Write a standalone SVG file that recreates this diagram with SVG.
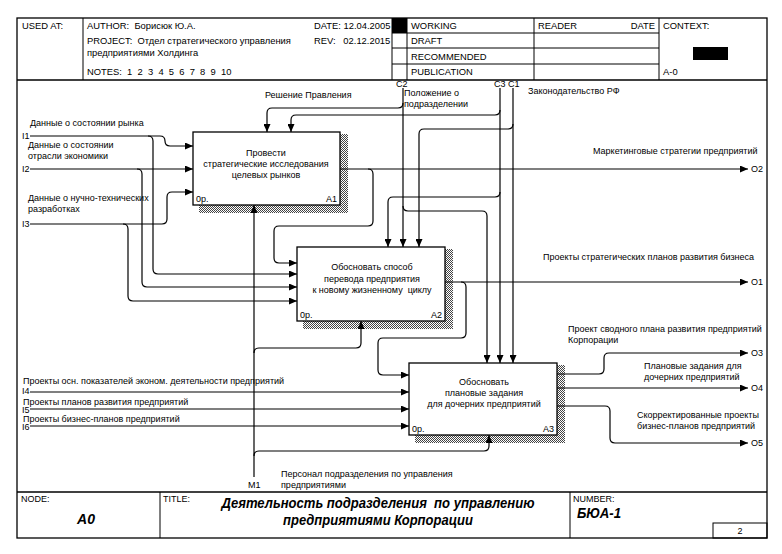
<svg xmlns="http://www.w3.org/2000/svg" width="782" height="554" viewBox="0 0 782 554">
<style>
text{font-family:"Liberation Sans",Arial,sans-serif;fill:#000}
.h{font-size:9.4px}
.t{font-size:9px}
.fr{fill:none;stroke:#000;stroke-width:1.3}
.thin{fill:none;stroke:#000;stroke-width:1}
.box{fill:#fff;stroke:#000;stroke-width:1.3}
.sh{fill:url(#hatch);stroke:none}
.ln{fill:none;stroke:#000;stroke-width:1.2;marker-end:url(#ah)}
.ti{font-size:14px;font-weight:bold;font-style:italic}
</style>
<defs>
<marker id="ah" markerUnits="userSpaceOnUse" markerWidth="8" markerHeight="7" refX="8" refY="3.5" orient="auto">
<path d="M0,0 L8,3.5 L0,7 z" fill="#000"/>
</marker>
<pattern id="hatch" width="2" height="2" patternUnits="userSpaceOnUse">
<rect width="2" height="2" fill="#fff"/>
<rect width="1" height="1" fill="#444"/>
<rect x="1" y="1" width="1" height="1" fill="#444"/>
</pattern>
</defs>
<rect width="782" height="554" fill="#fff"/>

<g id="header">
<rect class="fr" x="17" y="18" width="750" height="520"/>
<line class="fr" x1="17" y1="80" x2="767" y2="80"/>
<line class="thin" x1="83" y1="18" x2="83" y2="80"/>
<line class="thin" x1="392" y1="18" x2="392" y2="80"/>
<line class="thin" x1="407" y1="18" x2="407" y2="80"/>
<line class="thin" x1="534" y1="18" x2="534" y2="80"/>
<line class="thin" x1="659" y1="18" x2="659" y2="80"/>
<line class="thin" x1="392" y1="33" x2="659" y2="33"/>
<line class="thin" x1="392" y1="48" x2="659" y2="48"/>
<line class="thin" x1="392" y1="64" x2="659" y2="64"/>
<rect x="392" y="18" width="15" height="15" fill="#000"/>
<rect x="693" y="47" width="35" height="13" fill="#000"/>
<text class="h" x="22" y="29">USED AT:</text>
<text class="h" x="87" y="29" xml:space="preserve">AUTHOR:  Борисюк Ю.А.</text>
<text class="h" x="314" y="29">DATE: 12.04.2005</text>
<text class="h" x="87" y="44" xml:space="preserve">PROJECT:  Отдел стратегического управления</text>
<text class="h" x="314" y="44" xml:space="preserve">REV:   02.12.2015</text>
<text class="h" x="87" y="56">предприятиями Холдинга</text>
<text class="h" x="87" y="75" xml:space="preserve">NOTES:  1  2  3  4  5  6  7  8  9  10</text>
<text class="h" x="411" y="29">WORKING</text>
<text class="h" x="411" y="44">DRAFT</text>
<text class="h" x="411" y="60">RECOMMENDED</text>
<text class="h" x="411" y="75">PUBLICATION</text>
<text class="h" x="538" y="29">READER</text>
<text class="h" x="655" y="29" text-anchor="end">DATE</text>
<text class="h" x="663" y="29">CONTEXT:</text>
<text class="h" x="663" y="75">A-0</text>
</g>

<g id="footer">
<line class="fr" x1="17" y1="492" x2="767" y2="492"/>
<line class="thin" x1="160" y1="492" x2="160" y2="538"/>
<line class="thin" x1="570" y1="492" x2="570" y2="538"/>
<rect class="thin" x="713" y="523" width="54" height="15"/>
<text class="t" x="21" y="502">NODE:</text>
<text class="t" x="163" y="502">TITLE:</text>
<text class="t" x="573" y="502">NUMBER:</text>
<text class="ti" x="86" y="524" text-anchor="middle">A0</text>
<text class="ti" x="378" y="508" text-anchor="middle" textLength="313" lengthAdjust="spacingAndGlyphs" xml:space="preserve">Деятельность подразделения  по управлению</text>
<text class="ti" x="378" y="525" text-anchor="middle" textLength="190" lengthAdjust="spacingAndGlyphs">предприятиями Корпорации</text>
<text class="ti" x="577" y="518" textLength="44" lengthAdjust="spacingAndGlyphs">БЮА-1</text>
<text class="t" x="740" y="534" text-anchor="middle">2</text>
</g>

<g id="A1">
<path class="sh" d="M340,134 H348 V213 H199 V205 H340 Z"/>
<rect class="box" x="193" y="132" width="147" height="73"/>
<text class="t" x="266" y="156" text-anchor="middle">Провести</text>
<text class="t" x="266" y="167" text-anchor="middle">стратегические исследования</text>
<text class="t" x="266" y="178" text-anchor="middle">целевых рынков</text>
<text class="t" x="196" y="202">0р.</text>
<text class="t" x="337" y="202" text-anchor="end">A1</text>
</g>

<g id="A2">
<path class="sh" d="M445,249 H453 V329 H303 V321 H445 Z"/>
<rect class="box" x="297" y="247" width="148" height="74"/>
<text class="t" x="372" y="270" text-anchor="middle">Обосновать способ</text>
<text class="t" x="372" y="282" text-anchor="middle">перевода предприятия</text>
<text class="t" x="372" y="293" text-anchor="middle" xml:space="preserve">к новому жизненному  циклу</text>
<text class="t" x="300" y="318">0р.</text>
<text class="t" x="442" y="318" text-anchor="end">A2</text>
</g>

<g id="A3">
<path class="sh" d="M557,365 H565 V443 H415 V435 H557 Z"/>
<rect class="box" x="409" y="363" width="148" height="72"/>
<text class="t" x="484" y="385" text-anchor="middle">Обосновать</text>
<text class="t" x="484" y="396" text-anchor="middle">плановые задания</text>
<text class="t" x="484" y="407" text-anchor="middle">для дочерних предприятий</text>
<text class="t" x="412" y="432">0р.</text>
<text class="t" x="554" y="432" text-anchor="end">A3</text>
</g>

<g id="connectors">
<path class="ln" d="M30,136 H160 Q165,136 165,141 Q165,146 170,146 H193"/>
<path class="ln" d="M148,136 Q153,136 153,141 V269 Q153,274 158,274 H297"/>
<path class="ln" d="M30,169 H193"/>
<path class="ln" d="M137,169 Q142,169 142,174 V282 Q142,287 147,287 H297"/>
<path class="ln" d="M30,224 H162 Q167,224 167,219 V197 Q167,192 172,192 H193"/>
<path class="ln" d="M123,224 Q128,224 128,229 V296 Q128,301 133,301 H297"/>
<path class="ln" d="M30,392 H409"/>
<path class="ln" d="M30,409 H409"/>
<path class="ln" d="M30,426 H409"/>
<path class="ln" d="M254,477 V205"/>
<path class="ln" d="M254,353 Q254,348 259,348 H356 Q361,348 361,343 V321"/>
<path class="ln" d="M254,456 Q254,451 259,451 H484 Q489,451 489,446 V435"/>
<path class="ln" d="M403,88 V247"/>
<path class="ln" d="M500,88 V363"/>
<path class="ln" d="M513,88 V363"/>
<path class="ln" d="M403,103 Q403,108 398,108 H272 Q267,108 267,113 V132"/>
<path class="ln" d="M500,110 Q500,115 495,115 H296 Q291,115 291,120 V132"/>
<path class="ln" d="M500,192 Q500,197 495,197 H393 Q388,197 388,202 V247"/>
<path class="ln" d="M513,124 Q513,129 508,129 H424 Q419,129 419,134 V247"/>
<path class="ln" d="M403,206 Q403,211 408,211 H482 Q487,211 487,216 V363"/>
<path class="ln" d="M340,169 H748"/>
<path class="ln" d="M368,169 Q373,169 373,174 V221 Q373,226 368,226 H279 Q274,226 274,231 V258 Q274,263 279,263 H297"/>
<path class="ln" d="M445,282 H748"/>
<path class="ln" d="M461,282 Q466,282 466,287 V333 Q466,338 461,338 H383 Q378,338 378,343 V370 Q378,375 383,375 H409"/>
<path class="ln" d="M557,374 H599 Q604,374 604,369 V358 Q604,353 609,353 H748"/>
<path class="ln" d="M557,388 H748"/>
<path class="ln" d="M557,406 H605 Q610,406 610,411 V438 Q610,443 615,443 H748"/>
</g>

<g id="labels">
<text class="t" x="22" y="139">I1</text>
<text class="t" x="22" y="172">I2</text>
<text class="t" x="22" y="227">I3</text>
<text class="t" x="22" y="394">I4</text>
<text class="t" x="22" y="413">I5</text>
<text class="t" x="22" y="430">I6</text>
<text class="t" x="30" y="126">Данные о состоянии рынка</text>
<text class="t" x="28" y="148">Данные о состоянии</text>
<text class="t" x="28" y="159">отрасли экономики</text>
<text class="t" x="28" y="201">Данные о нучно-технических</text>
<text class="t" x="28" y="212">разработках</text>
<text class="t" x="23" y="384">Проекты осн. показателей эконом. деятельности предприятий</text>
<text class="t" x="23" y="405">Проекты планов развития предприятий</text>
<text class="t" x="23" y="422">Проекты бизнес-планов предприятий</text>
<text class="t" x="265" y="98">Решение Правления</text>
<text class="t" x="396" y="87">C2</text>
<text class="t" x="404" y="96">Положение о</text>
<text class="t" x="404" y="107">подразделении</text>
<text class="t" x="494" y="87">C3</text>
<text class="t" x="508" y="87">C1</text>
<text class="t" x="528" y="94">Законодательство РФ</text>
<text class="t" x="593" y="154">Маркетинговые стратегии предприятий</text>
<text class="t" x="751" y="172">O2</text>
<text class="t" x="543" y="260">Проекты стратегических планов развития бизнеса</text>
<text class="t" x="751" y="285">O1</text>
<text class="t" x="568" y="332">Проект сводного плана развития предприятий</text>
<text class="t" x="568" y="343">Корпорации</text>
<text class="t" x="751" y="356">O3</text>
<text class="t" x="644" y="369">Плановые задания для</text>
<text class="t" x="644" y="380">дочерних предприятий</text>
<text class="t" x="751" y="391">O4</text>
<text class="t" x="637" y="418">Скорректированные проекты</text>
<text class="t" x="637" y="429">бизнес-планов предприятий</text>
<text class="t" x="751" y="446">O5</text>
<text class="t" x="248" y="488">M1</text>
<text class="t" x="281" y="477">Персонал подразделения по управления</text>
<text class="t" x="281" y="488">предприятиями</text>
</g>
</svg>
